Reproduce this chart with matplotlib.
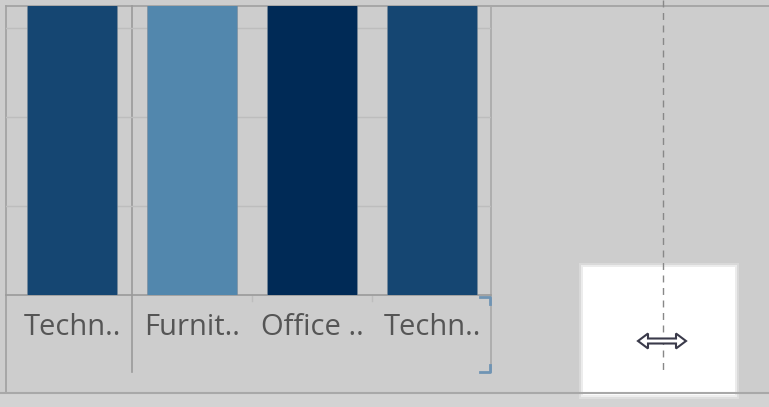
import matplotlib.pyplot as plt
from matplotlib.patches import Rectangle, Polygon

# data (bars run past the top of the visible pane)
categories = ['Techn..', 'Furnit..', 'Office ..', 'Techn..']
values = [4.1, 3.7, 4.4, 3.9]
colors = ['#154672', '#5287ad', '#002a56', '#154672']

W, H = 769, 407
fig = plt.figure(figsize=(W / 100, H / 100), dpi=100)
fig.patch.set_facecolor('#cdcdcd')

# overlay in pixel coordinates for the window chrome
ov = fig.add_axes([0, 0, 1, 1], zorder=0)
ov.set_xlim(0, W)
ov.set_ylim(H, 0)
ov.axis('off')
ov.add_patch(Rectangle((0, 393), W, 14, color='#d3d3d3', lw=0))
ov.plot([6, W], [6, 6], color='#a0a0a0', lw=1.2)
ov.plot([6, 6], [6, 393], color='#a0a0a0', lw=1.2)
ov.plot([0, W], [393, 393], color='#a8a8a8', lw=1.5)
ov.plot([132, 132], [6, 372], color='#9a9a9a', lw=1.2)
ov.plot([491, 491], [6, 372], color='#a8a8a8', lw=1.2)
for x in (252, 372):
    ov.plot([x, x], [296, 301], color='#bdbdbd', lw=1)
ov.plot([480, 490, 490], [297, 297, 304], color='#6f94b4', lw=2)
ov.plot([480, 490, 490], [372, 372, 365], color='#6f94b4', lw=2)
# white drop box with soft edge
for pad, a in ((4, 0.25), (2, 0.5)):
    ov.add_patch(Rectangle((583 - pad, 267 - pad), 152 + 2 * pad, 128 + 2 * pad,
                           color='white', alpha=a, lw=0))
ov.add_patch(Rectangle((583, 267), 152, 128, color='white', lw=0))
ov.plot([663, 663], [0, 372], color='#888888', lw=1, ls=(0, (5, 4)))
# resize cursor
cx, cy = 662, 341
cur = [(-24, 0), (-14, -7.5), (-14, -2.5), (14, -2.5), (14, -7.5), (24, 0),
       (14, 7.5), (14, 2.5), (-14, 2.5), (-14, 7.5)]
ov.add_patch(Polygon([(cx + a, cy + b) for a, b in cur], closed=True,
                     fc='white', ec='#3a3a4a', lw=1.5, zorder=5))

# bar pane
ax = fig.add_axes([6 / W, (H - 295) / H, 485 / W, 289 / H], zorder=1)
ax.set_facecolor('none')
x = range(len(categories))
ax.bar(x, values, width=0.75, color=colors, edgecolor='#7a8a99', linewidth=0.4, zorder=3)
ax.set_xlim(-0.55, 3.49)
ax.set_ylim(0, 3.25)
ax.set_yticks([1, 2, 3])
ax.yaxis.grid(True, color='#bdbdbd', lw=1, zorder=0)
ax.set_xticks(list(x))
ax.set_xticklabels(categories, fontsize=21, color='#555555', family='Open Sans')
ax.tick_params(axis='x', length=0, pad=13)
ax.tick_params(axis='y', length=0, labelleft=False)
for s in ('top', 'left', 'right'):
    ax.spines[s].set_visible(False)
ax.spines['bottom'].set_color('#9a9a9a')
ax.spines['bottom'].set_linewidth(1.2)

fig.savefig('out.png', dpi=100, facecolor=fig.get_facecolor())
